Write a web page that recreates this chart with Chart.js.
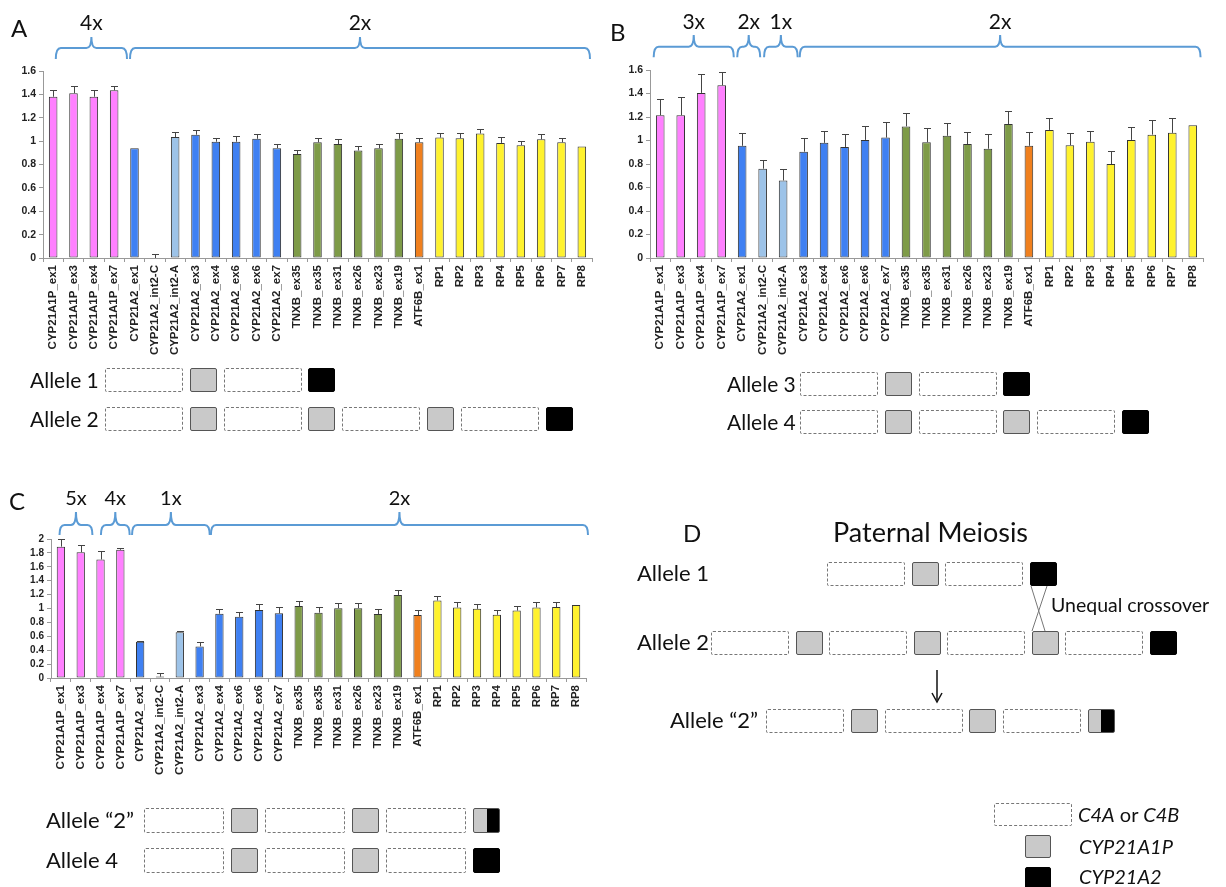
<!DOCTYPE html>
<html>
<head>
<meta charset="utf-8">
<script src="https://cdn.jsdelivr.net/npm/chart.js@4.4.1/dist/chart.umd.min.js"></script>
<style>
body { margin: 0; background: #fff; }
#page { position: relative; width: 1226px; height: 887px; overflow: hidden; font-family: Lato, sans-serif; color: #111; }
canvas { position: absolute; }
.t { position: absolute; white-space: nowrap; line-height: 1; }
.box { position: absolute; box-sizing: border-box; border-radius: 2px; }
.d { border: 1px dashed #777; background: #fff; }
.g { border: 1.5px solid #555; background: #c9c9c9; }
.b { border: 1px solid #000; background: #000; }
.s { border: 1.5px solid #555; background: linear-gradient(to right, #c9c9c9 50%, #000 50%); }
</style>
</head>
<body>
<div id="page">
  <canvas id="chartA" width="600" height="370" style="left:0;top:0"></canvas>
  <canvas id="chartB" width="626" height="370" style="left:600px;top:0"></canvas>
  <canvas id="chartC" width="600" height="320" style="left:0;top:470px"></canvas>
  <svg width="1226" height="887" style="position:absolute;left:0;top:0;pointer-events:none">
    <line x1="1031" y1="586" x2="1045" y2="631" stroke="#777" stroke-width="1"/>
    <line x1="1047" y1="586" x2="1032" y2="631" stroke="#777" stroke-width="1"/>
    <line x1="937" y1="670" x2="937" y2="700" stroke="#111" stroke-width="1.5"/>
    <path d="M932,693 L937,702 L942,693" fill="none" stroke="#111" stroke-width="1.5"/>
  </svg>
</div>
<script>
// qPCR copy number ratios, same target list in every panel
const labels = ['CYP21A1P_ex1', 'CYP21A1P_ex3', 'CYP21A1P_ex4', 'CYP21A1P_ex7',
    'CYP21A2_ex1', 'CYP21A2_int2-C', 'CYP21A2_int2-A', 'CYP21A2_ex3', 'CYP21A2_ex4',
    'CYP21A2_ex6', 'CYP21A2_ex6', 'CYP21A2_ex7',
    'TNXB_ex35', 'TNXB_ex35', 'TNXB_ex31', 'TNXB_ex26', 'TNXB_ex23', 'TNXB_ex19',
    'ATF6B_ex1', 'RP1', 'RP2', 'RP3', 'RP4', 'RP5', 'RP6', 'RP7', 'RP8'];

const valuesA = [1.38, 1.41, 1.38, 1.435, 0.94, 0, 1.035, 1.055, 0.995, 0.995, 1.02, 0.94,
    0.89, 0.99, 0.975, 0.92, 0.94, 1.02, 0.99, 1.03, 1.025, 1.065, 0.985, 0.965, 1.015, 0.99, 0.955];
const errorsA = [0.055, 0.06, 0.055, 0.035, 0, 0.037, 0.04, 0.038, 0.035, 0.045, 0.037, 0.037,
    0.032, 0.04, 0.04, 0.04, 0.037, 0.048, 0.04, 0.042, 0.046, 0.04, 0.048, 0.04, 0.042, 0.04, 0];

const valuesB = [1.215, 1.215, 1.405, 1.47, 0.955, 0.76, 0.66, 0.905, 0.98, 0.945, 1.005, 1.025,
    1.12, 0.985, 1.04, 0.97, 0.93, 1.14, 0.955, 1.09, 0.96, 0.99, 0.80, 1.005, 1.05, 1.065, 1.13];
const errorsB = [0.14, 0.155, 0.165, 0.11, 0.11, 0.075, 0.1, 0.115, 0.105, 0.11, 0.115, 0.13,
    0.113, 0.12, 0.107, 0.103, 0.125, 0.11, 0.115, 0.105, 0.105, 0.09, 0.11, 0.113, 0.125, 0.13, 0];

const valuesC = [1.89, 1.81, 1.705, 1.845, 0.52, 0.02, 0.66, 0.455, 0.925, 0.88, 0.98, 0.93,
    1.035, 0.94, 1.005, 1.005, 0.92, 1.195, 0.905, 1.115, 1.015, 0.995, 0.91, 0.97, 1.015, 1.02, 1.05];
const errorsC = [0.11, 0.11, 0.125, 0.03, 0.01, 0.05, 0.02, 0.07, 0.07, 0.07, 0.08, 0.085,
    0.07, 0.075, 0.07, 0.07, 0.08, 0.07, 0.075, 0.065, 0.075, 0.07, 0.07, 0.07, 0.08, 0.07, 0];

// copy number brackets: [from, to] in category widths, label
const bracesA = [[0.63, 4.13, '4x'], [4.28, 26.9, '2x']];
const bracesB = [[0.18, 4.09, '3x'], [4.26, 5.38, '2x'], [5.57, 7.21, '1x'], [7.31, 26.88, '2x']];
const bracesC = [[0.43, 2.09, '5x'], [2.52, 3.97, '4x'], [4.09, 8.01, '1x'], [8.07, 27.1, '2x']];

function groupColor(label) {
    if (label.startsWith('CYP21A1P')) return '#ff80ff';
    if (label.includes('int2')) return '#9dc3e8';
    if (label.startsWith('CYP21A2')) return '#3f80f2';
    if (label.startsWith('TNXB')) return '#7e9b48';
    if (label.startsWith('ATF6B')) return '#f0801e';
    return '#fff22e';
}

// upward error bars, errors kept on the dataset
const errorBars = {
    id: 'errorBars',
    afterDatasetsDraw(chart) {
        const ctx = chart.ctx;
        const y = chart.scales.y;
        const ds = chart.data.datasets[0];
        ctx.save();
        ctx.strokeStyle = '#444';
        ctx.lineWidth = 1;
        chart.getDatasetMeta(0).data.forEach((bar, i) => {
            const e = ds.errors[i];
            if (!e) return;
            const top = Math.round(y.getPixelForValue(ds.data[i] + e)) + 0.5;
            const x = Math.round(bar.x) + 0.5;
            ctx.beginPath();
            ctx.moveTo(x, bar.y);
            ctx.lineTo(x, top);
            ctx.moveTo(x - 3.5, top);
            ctx.lineTo(x + 3.5, top);
            ctx.stroke();
        });
        ctx.restore();
    }
};

function bracePlugin(list, off) {
    return {
        id: 'braces',
        afterDraw(chart) {
            const ctx = chart.ctx;
            const xs = chart.scales.x;
            const top = chart.chartArea.top;
            const w = (xs.right - xs.left) / labels.length;
            const yE = top - off.end, yL = top - off.line, yT = top - off.tip, r = 5;
            ctx.save();
            ctx.strokeStyle = '#5b9bd5';
            ctx.lineWidth = 2;
            ctx.fillStyle = '#111';
            ctx.font = off.font;
            ctx.textAlign = 'center';
            list.forEach(([a, b, text]) => {
                const x1 = xs.left + a * w, x2 = xs.left + b * w, xc = (x1 + x2) / 2;
                ctx.beginPath();
                ctx.moveTo(x1, yE);
                ctx.quadraticCurveTo(x1, yL, x1 + r, yL);
                ctx.lineTo(xc - r, yL);
                ctx.quadraticCurveTo(xc, yL, xc, yT);
                ctx.quadraticCurveTo(xc, yL, xc + r, yL);
                ctx.lineTo(x2 - r, yL);
                ctx.quadraticCurveTo(x2, yL, x2, yE);
                ctx.stroke();
                ctx.fillText(text, xc, top - off.text);
            });
            ctx.restore();
        }
    };
}

function makeChart(id, values, errors, yMax, yWidth, yFont, pad, xHeight, braces, off) {
    const ctx = document.getElementById(id).getContext('2d');
    return new Chart(ctx, {
        type: 'bar',
        data: {
            labels: labels,
            datasets: [{
                data: values,
                errors: errors,
                backgroundColor: labels.map(groupColor),
                borderColor: '#333',
                borderWidth: 1,
                borderSkipped: false,
                barPercentage: 0.42,
                categoryPercentage: 1
            }]
        },
        options: {
            responsive: false,
            animation: false,
            devicePixelRatio: 1,
            layout: { padding: pad },
            plugins: { legend: { display: false }, tooltip: { enabled: false } },
            scales: {
                x: {
                    grid: { drawOnChartArea: false, tickLength: 4, color: '#999', offset: true },
                    border: { color: '#999' },
                    ticks: {
                        autoSkip: false, maxRotation: 90, minRotation: 90, padding: 3, color: '#222',
                        font: { family: 'Liberation Sans', size: 11.5, weight: 'bold' }
                    },
                    afterFit: s => { s.height = xHeight; }
                },
                y: {
                    min: 0,
                    max: yMax,
                    grid: { drawOnChartArea: false, tickLength: 4, color: '#999' },
                    border: { color: '#999' },
                    ticks: {
                        stepSize: 0.2, autoSkip: false, padding: 3, color: '#222',
                        font: { family: 'Liberation Sans', size: yFont, weight: 'bold' },
                        callback: v => String(+v.toFixed(1))
                    },
                    afterFit: s => { s.width = yWidth; }
                }
            }
        },
        plugins: [errorBars, bracePlugin(braces, off)]
    });
}

makeChart('chartA', valuesA, errorsA, 1.6, 43, 10.5, { top: 71, right: 8, left: 0, bottom: 0 }, 112, bracesA,
    { end: 12, line: 23, tip: 34, text: 41, font: '21px Lato' });
makeChart('chartB', valuesB, errorsB, 1.6, 50, 10.5, { top: 70, right: 23, left: 0, bottom: 0 }, 112, bracesB,
    { end: 12.7, line: 23.3, tip: 35, text: 41.5, font: '21px Lato' });
makeChart('chartC', valuesC, errorsC, 2, 51, 10, { top: 69, right: 14, left: 0, bottom: 0 }, 112, bracesC,
    { end: 4, line: 14, tip: 27, text: 34, font: '20px Lato' });

// allele diagrams (C4 = dashed, CYP21A1P = grey, CYP21A2 = black, S = hybrid)
const page = document.getElementById('page');

function txt(str, x, baseline, size, style) {
    const el = document.createElement('div');
    el.className = 't';
    el.textContent = str;
    el.style.left = x + 'px';
    el.style.top = (baseline - 0.887 * size) + 'px';
    el.style.fontSize = size + 'px';
    if (style) el.style.fontStyle = style;
    page.appendChild(el);
    return el;
}

function box(cls, x, y, w, h) {
    const el = document.createElement('div');
    el.className = 'box ' + cls;
    el.style.left = x + 'px';
    el.style.top = y + 'px';
    el.style.width = w + 'px';
    el.style.height = h + 'px';
    page.appendChild(el);
}

function allele(name, tx, size, x, y, h, pattern, dw, gap) {
    txt(name, tx, y + h / 2 + 0.36 * size, size);
    pattern.split('').forEach(p => {
        const w = p === 'D' ? dw : 27;
        box({ D: 'd', G: 'g', B: 'b', S: 's' }[p], x, y, w, h);
        x += w + gap;
    });
}

txt('A', 11, 37, 24);
txt('B', 610, 41, 24);
txt('C', 9, 510, 24);
txt('D', 683, 542, 24);
txt('Paternal Meiosis', 833, 542, 27);

allele('Allele 1', 30, 21, 105, 368, 24, 'DGDB', 78, 6.8);
allele('Allele 2', 30, 21, 105, 407, 24, 'DGDGDGDB', 78, 6.8);
allele('Allele 3', 727, 21, 800, 372, 24, 'DGDB', 78, 6.8);
allele('Allele 4', 727, 21, 800, 410, 24, 'DGDGDB', 78, 6.8);
allele('Allele \u201c2\u201d', 46, 22, 144, 808, 25, 'DGDGDS', 80, 7);
allele('Allele 4', 46, 22, 144, 848, 25, 'DGDGDB', 80, 7);
allele('Allele 1', 637, 22, 827, 562, 24, 'DGDB', 78, 6.5);
allele('Allele 2', 637, 22, 711, 631, 24, 'DGDGDGDB', 78, 6.5);
allele('Allele \u201c2\u201d', 670, 22, 766, 709, 24, 'DGDGDS', 78, 6.8);
txt('Unequal crossover', 1051, 612, 19.5);

// key
box('d', 994, 803, 78, 23);
box('g', 1025, 835, 26, 23);
box('b', 1025, 867, 26, 23);
const key1 = txt('', 1078, 822, 20);
key1.innerHTML = '<i>C4A</i> or <i>C4B</i>';
txt('CYP21A1P', 1079, 854, 20, 'italic');
txt('CYP21A2', 1079, 884, 20, 'italic');
</script>
</body>
</html>
